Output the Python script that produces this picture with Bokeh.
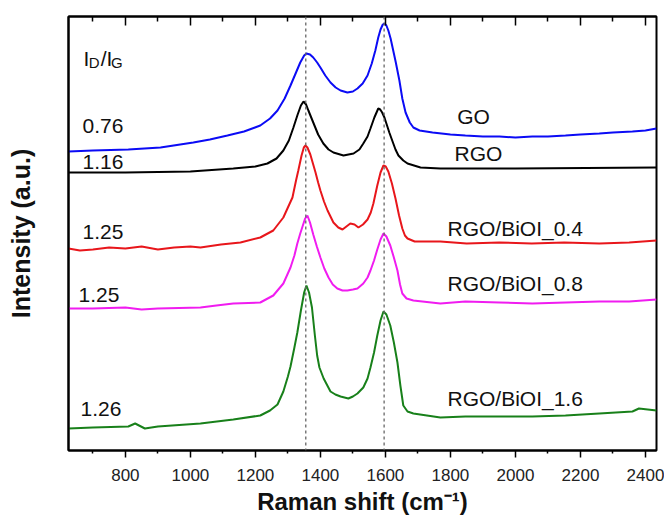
from bokeh.plotting import figure
from bokeh.models import Range1d, LinearAxis, FixedTicker, Span, Label, CustomLabelingPolicy
from bokeh.embed import file_html
from bokeh.resources import INLINE

# ---------------- data ----------------
go_x = [625, 700, 809, 908, 1009, 1060, 1114, 1165, 1215, 1245, 1268, 1290, 1308, 1325,
        1338, 1350, 1357, 1368, 1378, 1390, 1400, 1415, 1431, 1447, 1462, 1483, 1500,
        1514, 1530, 1545, 1558, 1569, 1578, 1585, 1592, 1597, 1603, 1609, 1616, 1622,
        1632, 1643, 1652, 1662, 1675, 1686, 1705, 1745, 1800, 1846, 1900, 1951, 2000,
        2052, 2100, 2154, 2200, 2258, 2300, 2360, 2400, 2434]
go_y = [299, 300, 301, 303, 308, 311, 315, 319, 325, 332, 340, 352, 365, 378,
        388, 395, 397, 396, 393, 388, 383, 375, 368, 363, 360, 358, 359,
        362, 367, 375, 387, 400, 413, 421, 426, 427, 425, 420, 412, 403,
        388, 370, 352, 338, 328, 323, 320, 318, 316, 315, 314, 314, 313,
        314, 314, 315, 316, 317, 318, 319, 320, 322]

rgo_x = [625, 800, 1000, 1132, 1200, 1237, 1265, 1286, 1303, 1317, 1330, 1340, 1348,
         1356, 1363, 1378, 1393, 1409, 1425, 1440, 1471, 1502, 1520, 1532, 1545, 1554,
         1566, 1578, 1584, 1590, 1597, 1603, 1612, 1622, 1631, 1640, 1655, 1668, 1708,
         1769, 2000, 2434]
rgo_y = [278, 278, 279, 282, 284, 287, 292, 300, 310, 323, 336, 345, 349,
         346, 340, 328, 316, 307, 301, 298, 295, 297, 301, 307, 314, 322,
         333, 342, 341, 338, 333, 327, 318, 309, 301, 295, 290, 287, 283,
         282, 282, 283]

b04_x = [625, 660, 700, 750, 800, 850, 900, 950, 1000, 1031, 1094, 1154, 1215, 1255,
         1286, 1314, 1325, 1332, 1342, 1349, 1354, 1360, 1369, 1377, 1385, 1393, 1400,
         1411, 1422, 1440, 1455, 1468, 1480, 1492, 1505, 1517, 1531, 1545, 1555, 1563,
         1575, 1585, 1594, 1601, 1609, 1620, 1631, 1642, 1652, 1660, 1668, 1690, 1769,
         1850, 1950, 2050, 2150, 2258, 2350, 2434]
b04_y = [202, 200, 201, 203, 202, 204, 201, 203, 204, 203, 206, 208, 213, 220,
         233, 253, 270, 280, 295, 303, 305, 303, 296, 287, 278, 268, 260,
         249, 240, 228, 223, 221, 224, 227, 226, 223, 226, 231, 238, 247,
         265, 278, 285, 284, 279, 267, 252, 235, 222, 215, 212, 209, 209,
         207, 208, 207, 208, 207, 208, 210]

b08_x = [625, 700, 800, 850, 900, 1031, 1080, 1132, 1215, 1255, 1286, 1308, 1320, 1329,
         1338, 1345, 1353, 1360, 1368, 1378, 1389, 1400, 1412, 1425, 1438, 1452, 1468,
         1483, 1500, 1514, 1532, 1545, 1554, 1565, 1575, 1585, 1594, 1603, 1615, 1626,
         1637, 1645, 1652, 1665, 1686, 1769, 1846, 1951, 2052, 2154, 2258, 2350, 2434]
b08_y = [142, 142, 143, 141, 142, 143, 145, 147, 148, 155, 167, 183, 195, 207,
         217, 224, 232, 235, 228, 216, 204, 193, 182, 173, 166, 162, 160,
         160, 161, 162, 167, 173, 180, 190, 201, 211, 217, 214, 205, 193,
         180, 166, 157, 152, 150, 147, 149, 148, 147, 148, 149, 149, 151]

b16_x = [625, 700, 809, 830, 860, 900, 1031, 1132, 1215, 1245, 1268, 1286, 1300, 1308,
         1320, 1329, 1340, 1350, 1357, 1365, 1374, 1383, 1390, 1397, 1410, 1431, 1446,
         1462, 1486, 1500, 1514, 1532, 1545, 1554, 1565, 1575, 1585, 1594, 1603, 1615,
         1626, 1637, 1646, 1655, 1668, 1686, 1769, 1846, 1951, 2052, 2154, 2258, 2360,
         2380, 2434]
b16_y = [22, 23, 24, 27, 22, 24, 27, 31, 35, 40, 46, 59, 74, 84,
         103, 118, 140, 158, 165, 158, 143, 115, 95, 83, 72, 59, 56,
         54, 52, 54, 57, 63, 72, 83, 98, 115, 130, 139, 136, 125,
         108, 88, 65, 45, 39, 37, 33, 34, 34, 34, 35, 37, 39,
         42, 40]

sample_names = ["GO", "RGO", "RGO/BiOI_0.4", "RGO/BiOI_0.8", "RGO/BiOI_1.6"]
id_ig_ratios = ["0.76", "1.16", "1.25", "1.25", "1.26"]
colors = ["#0b0bf5", "#000000", "#e8161b", "#f01cf0", "#18801a"]
peak_positions = [1355, 1596]          # D and G band reference lines
x_major = [800, 1000, 1200, 1400, 1600, 1800, 2000, 2200, 2400]
x_minor = [700, 900, 1100, 1300, 1500, 1700, 1900, 2100, 2300]
x_title = "Raman shift (cm\u207b\u00b9)"
y_title = "Intensity (a.u.)"

FONT = "Liberation Sans"

p = figure(width=664, height=517, x_range=Range1d(625, 2434), y_range=Range1d(0, 434),
           output_backend="svg", toolbar_location=None,
           min_border_left=68, min_border_right=8, min_border_top=16, min_border_bottom=67)
p.grid.visible = False
p.outline_line_color = "black"
p.outline_line_width = 2
p.background_fill_color = "white"
p.border_fill_color = "white"

# bottom axis
xa = p.xaxis[0]
xa.ticker = FixedTicker(ticks=x_major, minor_ticks=x_minor)
xa.major_tick_out = 7
xa.major_tick_in = 0
xa.minor_tick_out = 3
xa.minor_tick_in = 0
xa.axis_line_width = 2
xa.major_tick_line_width = 1.5
xa.minor_tick_line_width = 1.5
xa.major_label_text_font = FONT
xa.major_label_text_font_size = "17px"
xa.major_label_text_color = "#222222"
xa.major_label_standoff = 11
xa.axis_label = x_title
xa.axis_label_text_font = FONT
xa.axis_label_text_font_style = "bold"
xa.axis_label_text_font_size = "24px"
xa.axis_label_text_color = "#111111"
xa.axis_label_standoff = 4

# left axis (no ticks)
ya = p.yaxis[0]
ya.ticker = FixedTicker(ticks=[])
ya.axis_line_width = 2
ya.axis_label = y_title
ya.axis_label_text_font = FONT
ya.axis_label_text_font_style = "bold"
ya.axis_label_text_font_size = "25px"
ya.axis_label_text_color = "#111111"
ya.axis_label_standoff = 34

# top axis with inward ticks, labels suppressed by a labeling policy
no_labels = CustomLabelingPolicy(code="for (const i of Array.from(indices)) { indices.unset(i) }\nreturn indices")
top = LinearAxis(ticker=FixedTicker(ticks=x_major, minor_ticks=x_minor),
                 major_tick_in=9, major_tick_out=0, minor_tick_in=5, minor_tick_out=0,
                 major_tick_line_width=1.5, minor_tick_line_width=1.5,
                 axis_line_width=2, major_label_text_font_size="1px", major_label_standoff=0,
                 major_label_policy=no_labels)
p.add_layout(top, "above")

for loc in peak_positions:
    p.add_layout(Span(location=loc, dimension="height", line_color="#666666",
                      line_dash="3 3", line_width=1.3))

series = [(go_x, go_y), (rgo_x, rgo_y), (b04_x, b04_y), (b08_x, b08_y), (b16_x, b16_y)]
for (xs, ys), c in zip(series, colors):
    p.line(xs, ys, line_color=c, line_width=2)

# sample name labels (right)
name_pos = [(1871, 334, "center"), (1886, 297, "center"), (1791, 222, "left"),
            (1791, 167, "left"), (1791, 52, "left")]
for name, (lx, ly, al) in zip(sample_names, name_pos):
    p.add_layout(Label(x=lx, y=ly, text=name, text_align=al, text_baseline="alphabetic",
                       text_font=FONT, text_font_size="21px", text_color="#111111"))

# ratio labels (left)
ratio_pos = [(668, 325), (668, 289), (668, 219), (656, 156), (662, 42)]
for r, (lx, ly) in zip(id_ig_ratios, ratio_pos):
    p.add_layout(Label(x=lx, y=ly, text=r, text_align="left", text_baseline="alphabetic",
                       text_font=FONT, text_font_size="21px", text_color="#111111"))

# I_D/I_G header
for txt, lx, ly, fs in [("I", 671, 392, "21px"), ("D", 687, 388, "15px"),
                        ("/I", 724, 392, "21px"), ("G", 756, 388, "15px")]:
    p.add_layout(Label(x=lx, y=ly, text=txt, text_align="left", text_baseline="alphabetic",
                       text_font=FONT, text_font_size=fs, text_color="#111111"))

open("out.html", "w").write(file_html(p, INLINE))
